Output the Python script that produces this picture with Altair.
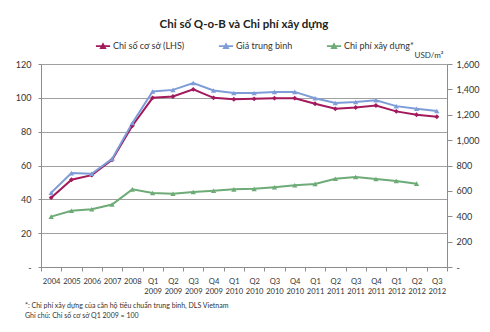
import altair as alt
import pandas as pd

periods = ["2004", "2005", "2006", "2007", "2008",
           "Q1 2009", "Q2 2009", "Q3 2009", "Q4 2009",
           "Q1 2010", "Q2 2010", "Q3 2010", "Q4 2010",
           "Q1 2011", "Q2 2011", "Q3 2011", "Q4 2011",
           "Q1 2012", "Q2 2012", "Q3 2012"]
base_index = [41, 51.6, 54.3, 63.3, 83.5, 100, 100.8, 105, 100, 99.2,
              99.4, 99.8, 99.8, 96.5, 93.5, 94.3, 95.5, 92, 90, 88.8]
avg_price = [43.9, 55.5, 55.1, 63.9, 85.1, 103.7, 104.7, 108.8, 104.3, 102.9,
             102.9, 103.5, 103.5, 99.8, 96.9, 97.5, 98.6, 95.1, 93.5, 92.2]
build_cost = [397, 444, 455, 492, 612, 583, 578, 591, 601, 612,
              616, 629, 644, 655, 696, 709, 694, 678, 657, None]

series_names = ["Chỉ số cơ sở (LHS)", "Giá trung bình", "Chi phí xây dựng*"]
series_colors = ["#A3195B", "#7E9DD8", "#6DAB77"]

title_text = "Chỉ số Q-o-B và Chi phí xây dựng"
unit_text = "USD/m²"
footnotes = ["*: Chi phí xây dựng của căn hộ tiêu chuẩn trung bình, DLS Vietnam",
             "Ghi chú: Chỉ số cơ sở Q1 2009 = 100"]

rows = []
for i, p in enumerate(periods):
    rows.append({"period": p, "series": series_names[0], "value": base_index[i]})
    rows.append({"period": p, "series": series_names[1], "value": avg_price[i]})
    if build_cost[i] is not None:
        rows.append({"period": p, "series": series_names[2], "value": build_cost[i]})
df = pd.DataFrame(rows)

FONT = "Lato"
TXT = "#333333"

x_enc = alt.X("period:N", sort=periods, bandPosition=0.5,
              scale=alt.Scale(type="band", paddingInner=0, paddingOuter=0),
              axis=alt.Axis(title=None, labelAngle=0, tickBand="extent",
                            labelExpr="split(datum.label, ' ')",
                            labelFontSize=7.6, labelFont=FONT, labelColor=TXT,
                            domainColor="#8c8c8c", tickColor="#8c8c8c",
                            tickSize=4, labelPadding=6, labelLineHeight=10.5))

color_enc = alt.Color("series:N", sort=series_names,
                      scale=alt.Scale(domain=series_names, range=series_colors),
                      legend=alt.Legend(title=None, orient="none", direction="horizontal",
                                        legendX=54, legendY=-26, columnPadding=30,
                                        labelFont=FONT, labelFontSize=9, labelColor=TXT,
                                        symbolType="M-1,0H1M-0.3,0.28L0,-0.3L0.3,0.28Z",
                                        symbolSize=200, symbolStrokeWidth=1.8,
                                        labelOffset=2))

y_left = alt.Y("value:Q", scale=alt.Scale(domain=[0, 120]),
               axis=alt.Axis(title=None, values=[0, 20, 40, 60, 80, 100, 120],
                             labelExpr="datum.value == 0 ? '-' : datum.label",
                             labelFont=FONT, labelFontSize=9, labelColor=TXT,
                             grid=True, gridColor="#a0a0a0", gridWidth=1,
                             domainColor="#8c8c8c", tickColor="#8c8c8c", tickSize=3,
                             labelPadding=7))
y_right = alt.Y("value:Q", scale=alt.Scale(domain=[0, 1600]),
                axis=alt.Axis(title=None, orient="right",
                              values=[0, 200, 400, 600, 800, 1000, 1200, 1400, 1600],
                              labelExpr="datum.value == 0 ? '-' : format(datum.value, ',')",
                              labelFont=FONT, labelFontSize=9, labelColor=TXT, grid=False,
                              domainColor="#8c8c8c", tickColor="#8c8c8c", tickSize=5,
                              labelPadding=4))

def pts(name, shape, size):
    return alt.Chart(df).transform_filter(
        alt.FieldEqualPredicate(field="series", equal=name)
    ).mark_point(filled=True, shape=shape, size=size, opacity=1)

left_base = alt.Chart(df).transform_filter(
    alt.FieldOneOfPredicate(field="series", oneOf=series_names[:2]))
left = alt.layer(
    left_base.mark_line(strokeWidth=2).encode(x=x_enc, y=y_left, color=color_enc),
    pts(series_names[0], "diamond", 24).encode(x=x_enc, y=y_left, color=color_enc),
    pts(series_names[1], "triangle-up", 28).encode(x=x_enc, y=y_left, color=color_enc),
)

right_base = alt.Chart(df).transform_filter(
    alt.FieldEqualPredicate(field="series", equal=series_names[2]))
right = alt.layer(
    right_base.mark_line(strokeWidth=2).encode(x=x_enc, y=y_right, color=color_enc),
    pts(series_names[2], "triangle-up", 28).encode(x=x_enc, y=y_right, color=color_enc),
)

one = alt.Data(values=[{}])
title_mark = alt.Chart(one).mark_text(font=FONT, fontSize=11.5, fontWeight="bold",
                                      color="#222222", align="center", baseline="middle").encode(
    x=alt.value(203), y=alt.value(-39), text=alt.value(title_text))
unit_mark = alt.Chart(one).mark_text(font=FONT, fontSize=8, color=TXT,
                                     align="center", baseline="middle").encode(
    x=alt.value(388), y=alt.value(-8), text=alt.value(unit_text))
foot1 = alt.Chart(one).mark_text(font=FONT, fontSize=7, color=TXT,
                                 align="left", baseline="middle").encode(
    x=alt.value(-16), y=alt.value(242), text=alt.value(footnotes[0]))
foot2 = alt.Chart(one).mark_text(font=FONT, fontSize=7, color=TXT,
                                 align="left", baseline="middle").encode(
    x=alt.value(-16), y=alt.value(252), text=alt.value(footnotes[1]))

chart = alt.layer(left, right, title_mark, unit_mark, foot1, foot2).resolve_scale(
    y="independent"
).properties(
    width=406, height=203,
    autosize=alt.AutoSizeParams(type="none"),
    padding={"left": 41, "top": 64, "right": 43, "bottom": 65},
).configure_view(stroke=None).configure(background="white")

chart.save("out.html", embed_options={"renderer": "svg", "actions": False})
